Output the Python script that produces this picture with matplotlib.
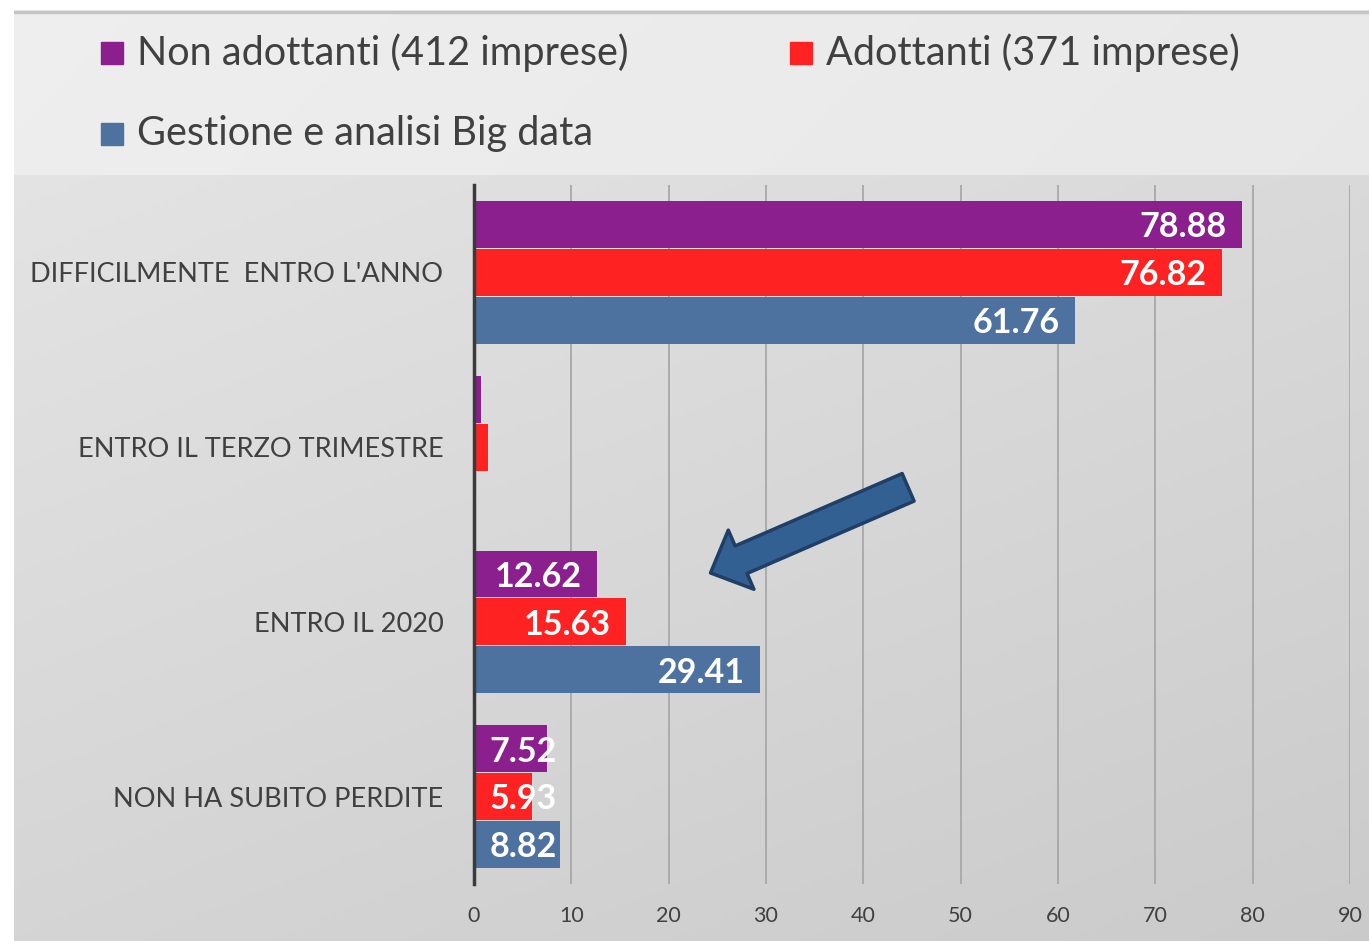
import matplotlib
matplotlib.use('Agg')
import matplotlib.pyplot as plt
import numpy as np
from matplotlib.patches import Rectangle

# data
categories = ["DIFFICILMENTE  ENTRO L'ANNO", "ENTRO IL TERZO TRIMESTRE", "ENTRO IL 2020", "NON HA SUBITO PERDITE"]
series_names = ["Non adottanti (412 imprese)", "Adottanti (371 imprese)", "Gestione e analisi Big data"]
non_adottanti = [78.88, 0.7, 12.62, 7.52]
adottanti = [76.82, 1.4, 15.63, 5.93]
big_data = [61.76, np.nan, 29.41, 8.82]
x_ticks = [0, 10, 20, 30, 40, 50, 60, 70, 80, 90]

colors = ['#8b1f8e', '#ff2222', '#4e72a0']
W, H = 1369, 941

plt.rcParams['font.family'] = ['Lato', 'DejaVu Sans']
fig = plt.figure(figsize=(W / 100, H / 100), dpi=100)
fig.patch.set_facecolor('white')

# background panel with soft gradient
bg = fig.add_axes([14 / W, 0, 1 - 14 / W, (H - 10) / H], zorder=-2)
gx = np.linspace(0, 1, 200)
gy = np.linspace(0, 1, 200)
GX, GY = np.meshgrid(gx, gy)
shade = 0.905 - 0.07 * GY - 0.04 * GX
bg.imshow(np.dstack([shade] * 3), aspect='auto', extent=[0, 1, 0, 1], origin='upper')
# lighter legend band
band_h = (175 - 10) / (H - 10)
band = 0.935 - 0.02 * GX[:50] - 0.01 * GY[:50]
bg.imshow(np.dstack([band] * 3), aspect='auto', extent=[0, 1, 1 - band_h, 1], origin='upper')
bg.axhline(1 - 1.5 / (H - 10), color='#c4c4c4', lw=2.5)
bg.set_xlim(0, 1)
bg.set_ylim(0, 1)
bg.axis('off')

ax = fig.add_axes([474 / W, (H - 884) / H, (1350 - 474) / W, (884 - 185) / H])
ax.patch.set_alpha(0)

y = np.arange(len(categories))
h = 0.268
offsets = [-0.274, 0.0, 0.274]
all_series = [non_adottanti, adottanti, big_data]
for vals, off, c in zip(all_series, offsets, colors):
    vals = np.array(vals, dtype=float)
    ax.barh(y + off, vals, height=h, color=c, zorder=3)
    for yi, v in zip(y, vals):
        if np.isnan(v) or v < 2:
            continue
        if v >= 10:
            ax.annotate(f'{v:.2f}', (v, yi + off), xytext=(-11, -2), textcoords='offset points',
                        ha='right', va='center', color='white', fontsize=24.5, fontweight='bold', zorder=5)
        else:
            ax.annotate(f'{v:.2f}', (0, yi + off), xytext=(11, -2), textcoords='offset points',
                        ha='left', va='center', color='white', fontsize=24.5, fontweight='bold', zorder=5)

ax.set_xlim(0, 90)
ax.set_ylim(len(categories) - 0.5, -0.5)
ax.set_xticks(x_ticks)
ax.set_yticks(y)
ax.set_yticklabels(categories, fontsize=19.5, color='#404040')
ax.tick_params(axis='y', length=0, pad=22)
ax.tick_params(axis='x', length=0, pad=16, labelsize=15.5, labelcolor='#404040')
ax.grid(axis='x', color='#a8a8a8', lw=1.3, zorder=1)
for s in ['top', 'right', 'bottom']:
    ax.spines[s].set_visible(False)
ax.spines['left'].set_color('#3a3a3a')
ax.spines['left'].set_linewidth(2.5)
ax.spines['left'].set_zorder(4)

# block arrow pointing at the 2020 group
ax.annotate('', xy=(24.3, 1.72), xytext=(44.6, 1.23),
            arrowprops=dict(arrowstyle='simple,head_length=1.5,head_width=2.9,tail_width=1.35',
                            fc='#336092', ec='#1f3f66', lw=2.5, shrinkA=0, shrinkB=0,
                            mutation_scale=16), zorder=6)

# legend
leg_pos = [(101, 53), (790, 53), (101, 134)]
for name, c, (lx, ly) in zip(series_names, colors, leg_pos):
    fig.patches.append(Rectangle((lx / W, (H - ly - 11) / H), 22 / W, 22 / H,
                                 transform=fig.transFigure, color=c))
    fig.text((lx + 36) / W, (H - ly) / H, name, fontsize=28.5, color='#404040',
             ha='left', va='center')

fig.savefig('out.png', dpi=100)
